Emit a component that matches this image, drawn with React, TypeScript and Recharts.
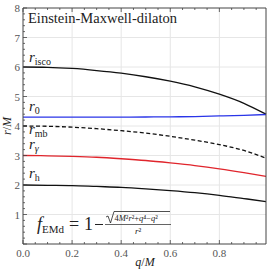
import { LineChart, Line, XAxis, YAxis, ReferenceLine } from "recharts";

// q/M samples and the radii (r/M)
const Q = [0, 0.1, 0.2, 0.3, 0.4, 0.5, 0.6, 0.7, 0.8, 0.9, 0.99];
const R_ISCO = [6.0, 5.99, 5.95, 5.88, 5.79, 5.67, 5.52, 5.33, 5.08, 4.77, 4.4];
const R_0 = [4.3, 4.3, 4.3, 4.3, 4.3, 4.305, 4.31, 4.32, 4.34, 4.36, 4.39];
const R_MB = [4.0, 3.99, 3.96, 3.91, 3.84, 3.76, 3.65, 3.52, 3.37, 3.17, 2.91];
const R_PH = [3.0, 2.99, 2.97, 2.94, 2.89, 2.83, 2.75, 2.66, 2.55, 2.42, 2.29];
const R_H = [2.0, 1.99, 1.98, 1.95, 1.92, 1.87, 1.81, 1.74, 1.65, 1.54, 1.44];

const X_MAX = 0.99;
const X_TICKS = Array.from({ length: 20 }, (_, i) => i * 0.05);
const Y_TICKS = Array.from({ length: 41 }, (_, i) => i * 0.2);
const GRID_X = [0.2, 0.4, 0.6, 0.8];
const GRID_Y = [1, 2, 3, 4, 5, 6, 7];

const data = Q.map((q, i) => ({
  q,
  isco: R_ISCO[i],
  r0: R_0[i],
  mb: R_MB[i],
  ph: R_PH[i],
  h: R_H[i],
}));

const FONT = "'Liberation Serif', 'DejaVu Serif', serif";
const FRAME = "#444";

const near = (v: number, step: number) =>
  Math.abs(v / step - Math.round(v / step)) < 1e-6;

function makeTick(side: "bottom" | "top" | "left" | "right") {
  return (p: any) => {
    const v = p.payload.value as number;
    const major = side === "bottom" || side === "top" ? near(v, 0.2) : near(v, 1);
    const len = major ? 4 : 2;
    const { x, y } = p;
    let line;
    if (side === "bottom") line = <line x1={x} x2={x} y1={y} y2={y - len} />;
    else if (side === "top") line = <line x1={x} x2={x} y1={y} y2={y + len} />;
    else if (side === "left") line = <line x1={x} x2={x + len} y1={y} y2={y} />;
    else line = <line x1={x} x2={x - len} y1={y} y2={y} />;
    return (
      <g stroke={FRAME} strokeWidth={0.8}>
        {line}
        {side === "bottom" && major && (
          <text x={x} y={y + 13} textAnchor="middle" fontSize={11} fill="#555" stroke="none" style={{ fontFamily: FONT }}>
            {v.toFixed(1)}
          </text>
        )}
        {side === "left" && major && v > 0 && (
          <text x={x - 3} y={y + 4} textAnchor="end" fontSize={11} fill="#555" stroke="none" style={{ fontFamily: FONT }}>
            {Math.round(v)}
          </text>
        )}
      </g>
    );
  };
}

export default function App() {
  return (
    <div style={{ position: "absolute", left: 0, top: 0, width: 270, height: 272, background: "#fff" }}>
      <LineChart width={270} height={272} data={data} margin={{ top: 7, right: 3, bottom: 0, left: 0 }}>
        <XAxis dataKey="q" type="number" domain={[0, X_MAX]} ticks={X_TICKS} interval={0} height={28}
          tickLine={false} tickSize={0} tickMargin={0} axisLine={{ stroke: FRAME }} tick={makeTick("bottom")} />
        <XAxis xAxisId="top" orientation="top" dataKey="q" type="number" domain={[0, X_MAX]} ticks={X_TICKS}
          interval={0} height={1} tickLine={false} tickSize={0} tickMargin={0} axisLine={{ stroke: FRAME }}
          tick={makeTick("top")} />
        <YAxis type="number" domain={[0, 8]} ticks={Y_TICKS} interval={0} width={23} tickLine={false}
          tickSize={0} tickMargin={0} axisLine={{ stroke: FRAME }} tick={makeTick("left")} />
        <YAxis yAxisId="right" orientation="right" type="number" domain={[0, 8]} ticks={Y_TICKS} interval={0}
          width={1} tickLine={false} tickSize={0} tickMargin={0} axisLine={{ stroke: FRAME }}
          tick={makeTick("right")} />
        {GRID_X.map((v) => (
          <ReferenceLine key={"gx" + v} x={v} stroke="#e6e6e6" strokeWidth={1} />
        ))}
        {GRID_Y.map((v) => (
          <ReferenceLine key={"gy" + v} y={v} stroke="#e6e6e6" strokeWidth={1} />
        ))}
        <Line dataKey="isco" type="monotone" stroke="#111" strokeWidth={1.3} dot={false} isAnimationActive={false} />
        <Line dataKey="r0" type="monotone" stroke="#2a35e8" strokeWidth={1.3} dot={false} isAnimationActive={false} />
        <Line dataKey="mb" type="monotone" stroke="#111" strokeWidth={1.3} strokeDasharray="4 2.5" dot={false} isAnimationActive={false} />
        <Line dataKey="ph" type="monotone" stroke="#e0252c" strokeWidth={1.3} dot={false} isAnimationActive={false} />
        <Line dataKey="h" type="monotone" stroke="#111" strokeWidth={1.3} dot={false} isAnimationActive={false} />
      </LineChart>
      <svg width={270} height={272} style={{ position: "absolute", left: 0, top: 0, pointerEvents: "none" }}
        fontFamily={FONT} fill="#222">
        <text x={28} y={23} fontSize={14.5}>Einstein-Maxwell-dilaton</text>
        <text x={29} y={62} fontSize={15}>
          <tspan fontStyle="italic">r</tspan>
          <tspan fontSize={10} dy={3}>isco</tspan>
        </text>
        <text x={29} y={111} fontSize={15}>
          <tspan fontStyle="italic">r</tspan>
          <tspan fontSize={10} dy={3}>0</tspan>
        </text>
        <text x={29} y={134} fontSize={15}>
          <tspan fontStyle="italic">r</tspan>
          <tspan fontSize={10} dy={3}>mb</tspan>
        </text>
        <text x={29} y={149} fontSize={15}>
          <tspan fontStyle="italic">r</tspan>
          <tspan fontSize={10} dy={3} fontStyle="italic">γ</tspan>
        </text>
        <text x={29} y={178} fontSize={15}>
          <tspan fontStyle="italic">r</tspan>
          <tspan fontSize={10} dy={3}>h</tspan>
        </text>
        <text x={37} y={230} fontSize={18}>
          <tspan fontStyle="italic">f</tspan>
          <tspan fontSize={11} dy={3}>EMd</tspan>
        </text>
        <text x={69} y={230} fontSize={18}>=</text>
        <text x={84} y={230} fontSize={18}>1</text>
        <line x1={95} x2={103} y1={224.5} y2={224.5} stroke="#222" strokeWidth={1} />
        <path d="M106 217 L108 216 L110.5 223 L114 211.5 L170 211.5" fill="none" stroke="#222" strokeWidth={0.8} />
        <text x={114.5} y={220.5} fontSize={8.5}>
          4<tspan fontStyle="italic">M</tspan>²<tspan fontStyle="italic">r</tspan>²+<tspan fontStyle="italic">q</tspan>⁴−<tspan fontStyle="italic">q</tspan>²
        </text>
        <line x1={105} x2={171} y1={224.5} y2={224.5} stroke="#222" strokeWidth={0.7} />
        <text x={138} y={234} fontSize={9} textAnchor="middle">
          <tspan fontStyle="italic">r</tspan>²
        </text>
        <text x={145} y={266} fontSize={12} textAnchor="middle">
          <tspan fontStyle="italic">q</tspan>/<tspan fontStyle="italic">M</tspan>
        </text>
        <text x={0} y={0} fontSize={12} textAnchor="middle" transform="translate(11,126) rotate(-90)">
          <tspan fontStyle="italic">r</tspan>/<tspan fontStyle="italic">M</tspan>
        </text>
      </svg>
    </div>
  );
}
